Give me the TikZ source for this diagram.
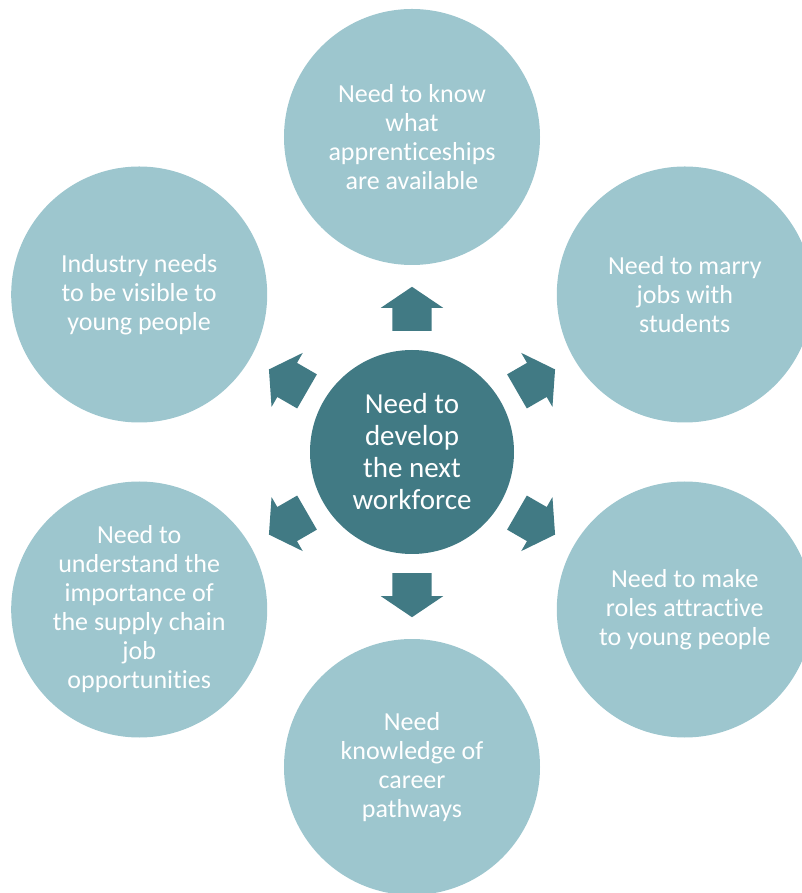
\documentclass[tikz,border=0pt]{standalone}
\usepackage{fontspec}
\setmainfont{Carlito}[Ligatures=NoCommon]
\usetikzlibrary{positioning}
\usetikzlibrary{shapes.arrows}
\definecolor{pale}{HTML}{9DC6CE}
\definecolor{deep}{HTML}{417A84}

\begin{document}
\begin{tikzpicture}[x=1pt,y=1pt,
    need/.style={circle,fill=pale,text=white,minimum size=256pt,align=center,font=\fontsize{26}{29}\selectfont},
    hub/.style={circle,fill=deep,text=white,minimum size=204pt,align=center,font=\fontsize{29}{32}\selectfont},
    push/.style={single arrow,fill=deep,minimum height=44pt,inner xsep=0pt,inner ysep=19.5pt,
        single arrow head extend=11.5pt,single arrow tip angle=112,anchor=tail}]
    \useasboundingbox (-412,-441) rectangle (390,452);
    \clip (-412,-441) rectangle (390,452);

    \node (H) [hub] at (0,0) {Need to\\develop\\the next\\workforce};

    \node (Know)   [need] at (90:315)  {Need to know\\what\\apprenticeships\\are available};
    \node (Marry)  [need] at (30:315)  {Need to marry\\jobs with\\students};
    \node (Roles)  [need] at (-30:315) {Need to make\\roles attractive\\to young people};
    \node (Paths)  [need] at (-90:315) {Need\\knowledge of\\career\\pathways};
    \node (Supply) [need] at (210:315) {Need to\\understand the\\importance of\\the supply chain\\job\\opportunities};
    \node (Seen)   [need] at (150:315) {Industry needs\\to be visible to\\young people};

    % block arrows pointing out of the hub
    \foreach \a in {90,30,-30,-90,210,150}
        \node (P\a) [push,rotate=\a] at (\a:121) {};
\end{tikzpicture}
\end{document}
